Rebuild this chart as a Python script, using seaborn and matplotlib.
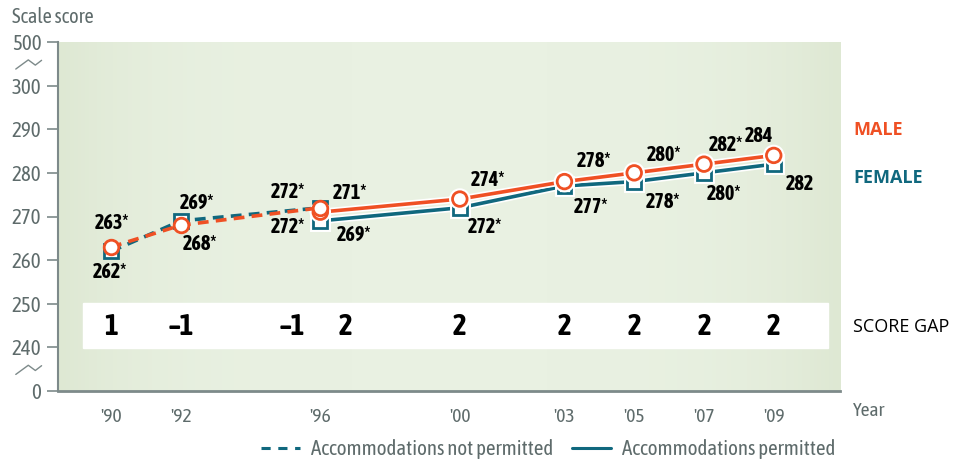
import numpy as np
import pandas as pd
import matplotlib
matplotlib.use("Agg")
import matplotlib.pyplot as plt
import matplotlib.patheffects as pe
from matplotlib.lines import Line2D
from matplotlib.colors import LinearSegmentedColormap
import seaborn as sns

# ==================================================
# DATA
# ==================================================

years_not_permitted = [1990, 1992, 1996]
male_not_permitted = [263, 268, 272]
female_not_permitted = [262, 269, 272]

years_permitted = [1996, 2000, 2003, 2005, 2007, 2009]
male_permitted = [271, 274, 278, 280, 282, 284]
female_permitted = [269, 272, 277, 278, 280, 282]

male_labels_np = ["263*", "268*", "272*"]
female_labels_np = ["262*", "269*", "272*"]
male_labels_p = ["271*", "274*", "278*", "280*", "282*", "284"]
female_labels_p = ["269*", "272*", "277*", "278*", "280*", "282"]

gap_years = [1990, 1992, 1996, 1996, 2000, 2003, 2005, 2007, 2009]
gap_values = ["1", "\u20131", "\u20131", "2", "2", "2", "2", "2", "2"]

year_ticks = [1990, 1992, 1996, 2000, 2003, 2005, 2007, 2009]
year_tick_labels = ["'90", "'92", "'96", "'00", "'03", "'05", "'07", "'09"]

# broken scale: 230 stands for 0 and 310 stands for 500
score_ticks = [230, 240, 250, 260, 270, 280, 290, 300, 310]
score_tick_labels = ["0", "240", "250", "260", "270", "280", "290", "300", "500"]

# ==================================================
# STYLE
# ==================================================

MALE = "#EF5024"
FEMALE = "#10687E"
GRAY = "#5E6B6B"
SPINE = "#7D8A8A"

NARROW = ["Asap Condensed", "Archivo Narrow", "Roboto Condensed", "DejaVu Sans"]
WIDE = ["Open Sans", "Liberation Sans", "DejaVu Sans"]

sns.set_style("white")
plt.rcParams["font.family"] = NARROW

# label offsets in points (dx, dy)
male_off_np = [(1, 17), (14, -13.5), (-23, 11)]
female_off_np = [(-1, -15), (11.5, 13), (-23, -14)]
male_off_p = [(21.5, 13.5), (20, 14), (21, 14.5), (21.5, 13), (16, 13.5), (-11, 14)]
female_off_p = [(24, -10), (18, -14), (19, -15), (21, -14.5), (14.5, -15), (19, -14)]
gap_off = [0, 0, -20, 18, 0, 0, 0, 0, 0]

# ==================================================
# FIGURE
# ==================================================

fig = plt.figure(figsize=(9.56, 4.59), dpi=100)
ax = fig.add_axes([58 / 956, 68 / 459, 782 / 956, 349 / 459])

# background gradient
grad = np.linspace(0, 1, 200)
grad = 1 - (np.abs(grad - 0.5) * 2) ** 4
bg = np.outer(np.ones(50), grad)
cmap_bg = LinearSegmentedColormap.from_list("bg", ["#DEE8D3", "#E9F1E2"])
ax.imshow(bg, cmap=cmap_bg, aspect="auto", extent=[0, 1, 0, 1],
          transform=ax.transAxes, zorder=0)

# white score gap band
ax.axhspan(239.8, 250.2, xmin=0.032, xmax=0.985, color="white", zorder=1)

df_np = pd.DataFrame({"year": years_not_permitted * 2,
                      "score": female_not_permitted + male_not_permitted,
                      "sex": ["Female"] * 3 + ["Male"] * 3})
df_p = pd.DataFrame({"year": years_permitted * 2,
                     "score": female_permitted + male_permitted,
                     "sex": ["Female"] * 6 + ["Male"] * 6})

outline = [pe.Stroke(linewidth=5, foreground="white"), pe.Normal()]

for sex, color, marker, msize in [("Female", FEMALE, "s", 10), ("Male", MALE, "o", 10.5)]:
    z = 3 if sex == "Female" else 4
    sns.lineplot(data=df_p[df_p.sex == sex], x="year", y="score", color=color,
                 linewidth=2.6, marker=marker, markersize=msize,
                 markerfacecolor="white", markeredgecolor=color,
                 markeredgewidth=2.0, ax=ax, zorder=z, path_effects=outline)
    sns.lineplot(data=df_np[df_np.sex == sex], x="year", y="score", color=color,
                 linewidth=2.6, linestyle=(0, (3, 2)), marker=marker,
                 markersize=msize, markerfacecolor="white", markeredgecolor=color,
                 markeredgewidth=2.0, ax=ax, zorder=z)

# data labels
lab_kw = dict(textcoords="offset points", ha="center", va="center",
              fontsize=14.5, fontweight="bold", color="black", zorder=6)
for xs, ys, labs, offs in [
        (years_not_permitted, male_not_permitted, male_labels_np, male_off_np),
        (years_not_permitted, female_not_permitted, female_labels_np, female_off_np),
        (years_permitted, male_permitted, male_labels_p, male_off_p),
        (years_permitted, female_permitted, female_labels_p, female_off_p)]:
    for x, y, t, o in zip(xs, ys, labs, offs):
        ax.annotate(t, (x, y), xytext=o, **lab_kw)

# score gaps
for x, g, o in zip(gap_years, gap_values, gap_off):
    ax.annotate(g, (x, 245), xytext=(o, -1), textcoords="offset points",
                ha="center", va="center", fontsize=21, fontweight="bold",
                color="black", zorder=6)

# axes
ax.set_xlim(1988.48, 2010.9)
ax.set_ylim(230, 310)
ax.set_xticks(year_ticks)
ax.set_xticklabels(year_tick_labels)
ax.set_yticks(score_ticks)
ax.set_yticklabels(score_tick_labels)
ax.set_xlabel("")
ax.set_ylabel("")
ax.tick_params(axis="y", length=8, width=1.2, color=SPINE, pad=4,
               labelsize=15, labelcolor=GRAY, direction="out", left=True)
ax.tick_params(axis="x", length=0, pad=12, labelsize=14, labelcolor=GRAY)
for s in ["top", "right"]:
    ax.spines[s].set_visible(False)
ax.spines["left"].set_color(SPINE)
ax.spines["left"].set_linewidth(1.5)
ax.spines["bottom"].set_color(SPINE)
ax.spines["bottom"].set_linewidth(2)

# axis break marks
ytr = ax.get_yaxis_transform()
for yb in [305, 235]:
    ax.plot([-0.054, -0.038, -0.029, -0.021], [yb - 1.2, yb + 0.9, yb - 0.3, yb + 0.8],
            transform=ytr, color=SPINE, linewidth=1.0, clip_on=False)

# texts
fig.text(12 / 956, 1 - 17 / 459, "Scale score", fontsize=14.5, color=GRAY,
         ha="left", va="center")
fig.text(853 / 956, 1 - 411 / 459, "Year", fontsize=14, color=GRAY,
         ha="left", va="center")
fig.text(853 / 956, 1 - 130 / 459, "MALE", fontsize=13, fontweight="bold",
         color=MALE, ha="left", va="center", family=WIDE)
fig.text(853 / 956, 1 - 178 / 459, "FEMALE", fontsize=13, fontweight="bold",
         color=FEMALE, ha="left", va="center", family=WIDE)
fig.text(853 / 956, 1 - 327 / 459, "SCORE GAP", fontsize=13, color="black",
         ha="left", va="center", family=WIDE)

# legend
handles = [Line2D([], [], color=FEMALE, linewidth=2.2, linestyle=(0, (3, 2.5))),
           Line2D([], [], color=FEMALE, linewidth=2.2)]
leg = fig.legend(handles, ["Accommodations not permitted", "Accommodations permitted"],
                 loc="center", bbox_to_anchor=(548 / 956, 1 - 449 / 459), ncol=2,
                 frameon=False, fontsize=15, handlelength=1.9, columnspacing=0.9,
                 handletextpad=0.5)
for t in leg.get_texts():
    t.set_color(GRAY)

fig.savefig("out.png", dpi=100)
